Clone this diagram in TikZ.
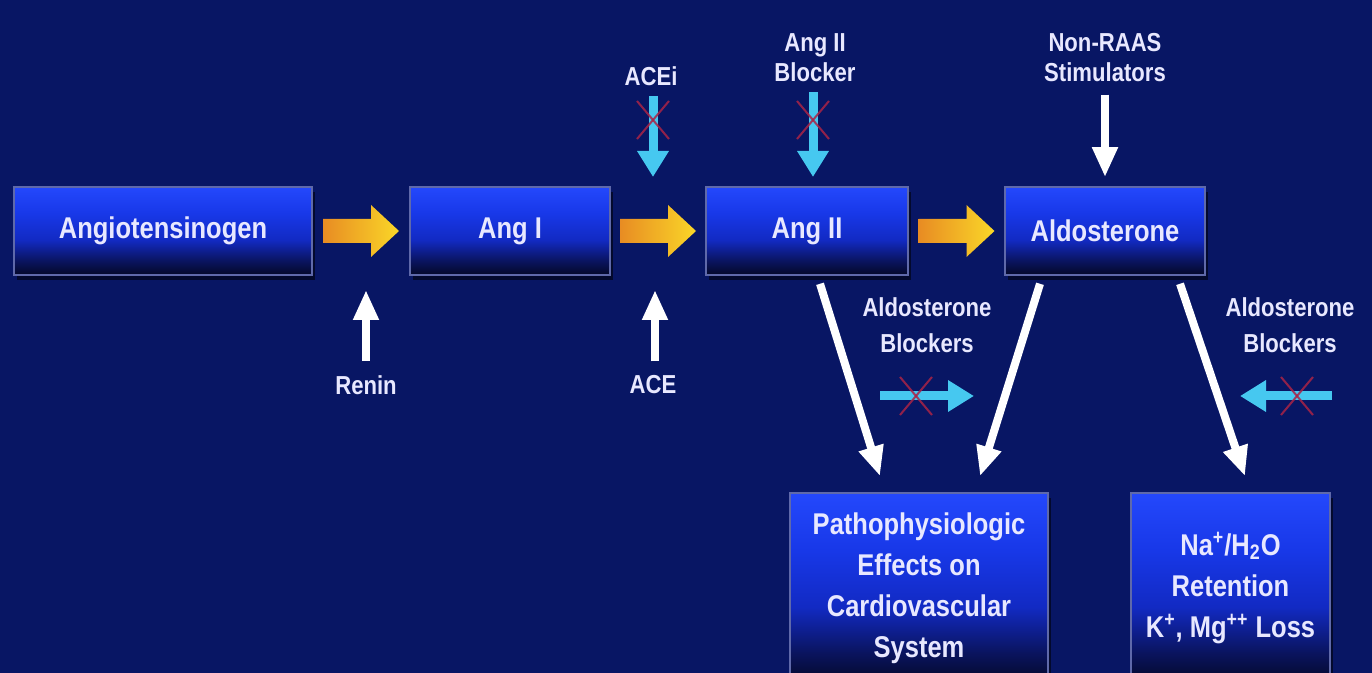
\documentclass[tikz,border=0pt]{standalone}
\usepackage{fontspec}
\setmainfont[FakeStretch=0.85]{Liberation Sans}
\usetikzlibrary{arrows.meta,calc,shadows}
\definecolor{bg}{RGB}{8,22,100}
\definecolor{txt}{RGB}{232,232,255}
\definecolor{boxborder}{RGB}{95,105,170}
\definecolor{cyanA}{RGB}{70,200,240}
\definecolor{redX}{RGB}{170,35,70}
\definecolor{orangeA}{RGB}{232,140,35}
\definecolor{yellowA}{RGB}{250,215,40}
\pgfdeclareverticalshading{boxshade}{100bp}{color(0bp)=(rgb,255:red,4;green,8;blue,40); color(25bp)=(rgb,255:red,4;green,8;blue,40); color(33bp)=(rgb,255:red,10;green,20;blue,95); color(45bp)=(rgb,255:red,18;green,42;blue,195); color(60bp)=(rgb,255:red,24;green,56;blue,232); color(75bp)=(rgb,255:red,36;green,72;blue,252); color(100bp)=(rgb,255:red,36;green,72;blue,252)}
\tikzset{
  box/.style={draw=boxborder, line width=0.8pt, shading=boxshade, text=txt,
    font=\bfseries\fontsize{15}{20.5}\selectfont, align=center, inner sep=0pt,
    drop shadow={shadow xshift=1.5pt, shadow yshift=-2.5pt, fill=black, opacity=0.55}},
  lbl/.style={text=txt, font=\bfseries\fontsize{13}{18}\selectfont, align=center, inner sep=1pt},
  toplbl/.style={lbl, font=\bfseries\fontsize{13}{15}\selectfont},
  warrow/.style={draw=white, line width=4pt, -{Triangle[width=12pt,length=15pt]}},
  carrow/.style={draw=cyanA, line width=4.5pt, -{Triangle[width=15pt,length=13pt]}},
  redx/.style={draw=redX, line width=1pt, opacity=0.85},
  blockarrow/.style={left color=orangeA, right color=yellowA}
}
\newcommand\orangearrow[1]{%
  \begin{scope}[shift={(#1)}]
    \shade[blockarrow] (-38,-12) -- (10,-12) -- (10,-26) -- (38,0) -- (10,26) -- (10,12) -- (-38,12) -- cycle;
  \end{scope}}
\newcommand\redcross[1]{%
  \begin{scope}[shift={(#1)}]
    \draw[redx] (-16,-19) -- (16,19);
    \draw[redx] (-16,19) -- (16,-19);
  \end{scope}}
\begin{document}
\begin{tikzpicture}[x=0.5pt,y=-0.5pt]
\useasboundingbox (0,0) rectangle (1372,673);
\clip (0,0) rectangle (1372,673);
\fill[bg] (0,0) rectangle (1372,673);

% main boxes
\node[box, minimum width=149pt, minimum height=44pt] (ango) at (163,231) {Angiotensinogen};
\node[box, minimum width=100pt, minimum height=44pt] (angi) at (510,231) {Ang I};
\node[box, minimum width=101pt, minimum height=44pt] (angii) at (807,231) {Ang II};
\node[box, minimum width=100pt, minimum height=44pt] (aldo) at (1105,231) {Aldosterone};
\node[box, minimum width=129pt, minimum height=95pt] (patho) at (919,588) {Pathophysiologic\\Effects on\\Cardiovascular\\System};
\node[box, minimum width=99.5pt, minimum height=95pt] (natwo) at (1230.5,588) {Na\textsuperscript{+}/H\textsubscript{2}O\\Retention\\K\textsuperscript{+}, Mg\textsuperscript{++} Loss};

% orange block arrows between boxes
\coordinate (oa1) at ($(ango.east)!0.5!(angi.west)$);
\coordinate (oa2) at ($(angi.east)!0.5!(angii.west)$);
\coordinate (oa3) at ($(angii.east)!0.5!(aldo.west)$);
\orangearrow{oa1}
\orangearrow{oa2}
\orangearrow{oa3}

% labels
\node[lbl] (renin) at (366,385) {Renin};
\node[lbl] (ace) at (653,385) {ACE};
\node[lbl] (acei) at (651,76) {ACEi};
\node[toplbl] (arb) at (815,58) {Ang II\\Blocker};
\node[toplbl] (nonraas) at (1105,58) {Non-RAAS\\Stimulators};
\node[lbl] (ab1) at (927,325) {Aldosterone\\Blockers};
\node[lbl] (ab2) at (1290,325) {Aldosterone\\Blockers};

% white enzyme arrows
\coordinate (reninTip) at (366,290);
\coordinate (aceTip) at (655,290);
\draw[warrow, shorten <=6pt] (renin.north) -- (reninTip);
\draw[warrow, shorten <=6pt] (ace.north -| aceTip) -- (aceTip);
\draw[warrow, shorten <=5pt, shorten >=4.5pt] (nonraas.south) -- (aldo.north);

% cyan blocked arrows
\coordinate (aceiTip) at (653,177);
\coordinate (arbTip) at (813,177);
\draw[carrow, shorten <=4pt] (acei.south -| aceiTip) -- (aceiTip);
\draw[carrow, shorten <=4pt] (arb.south -| arbTip) -- (arbTip);
\coordinate (ab1Start) at (880,396);
\coordinate (ab1Tip) at (974,396);
\coordinate (ab2Start) at (1332,396);
\coordinate (ab2Tip) at (1240,396);
\draw[carrow] (ab1Start) -- (ab1Tip);
\draw[carrow] (ab2Start) -- (ab2Tip);
\redcross{653,120}
\redcross{813,120}
\redcross{916,396}
\redcross{1297,396}

% diagonal white arrows
\draw[warrow] ($(angii.south)+(13,8)$) -- ($(patho.north)+(-39,-16)$);
\draw[warrow] ($(aldo.south)+(-65,8)$) -- ($(patho.north)+(61,-16)$);
\draw[warrow] ($(aldo.south)+(75,8)$) -- ($(natwo.north)+(14.5,-16)$);
\end{tikzpicture}
\end{document}
